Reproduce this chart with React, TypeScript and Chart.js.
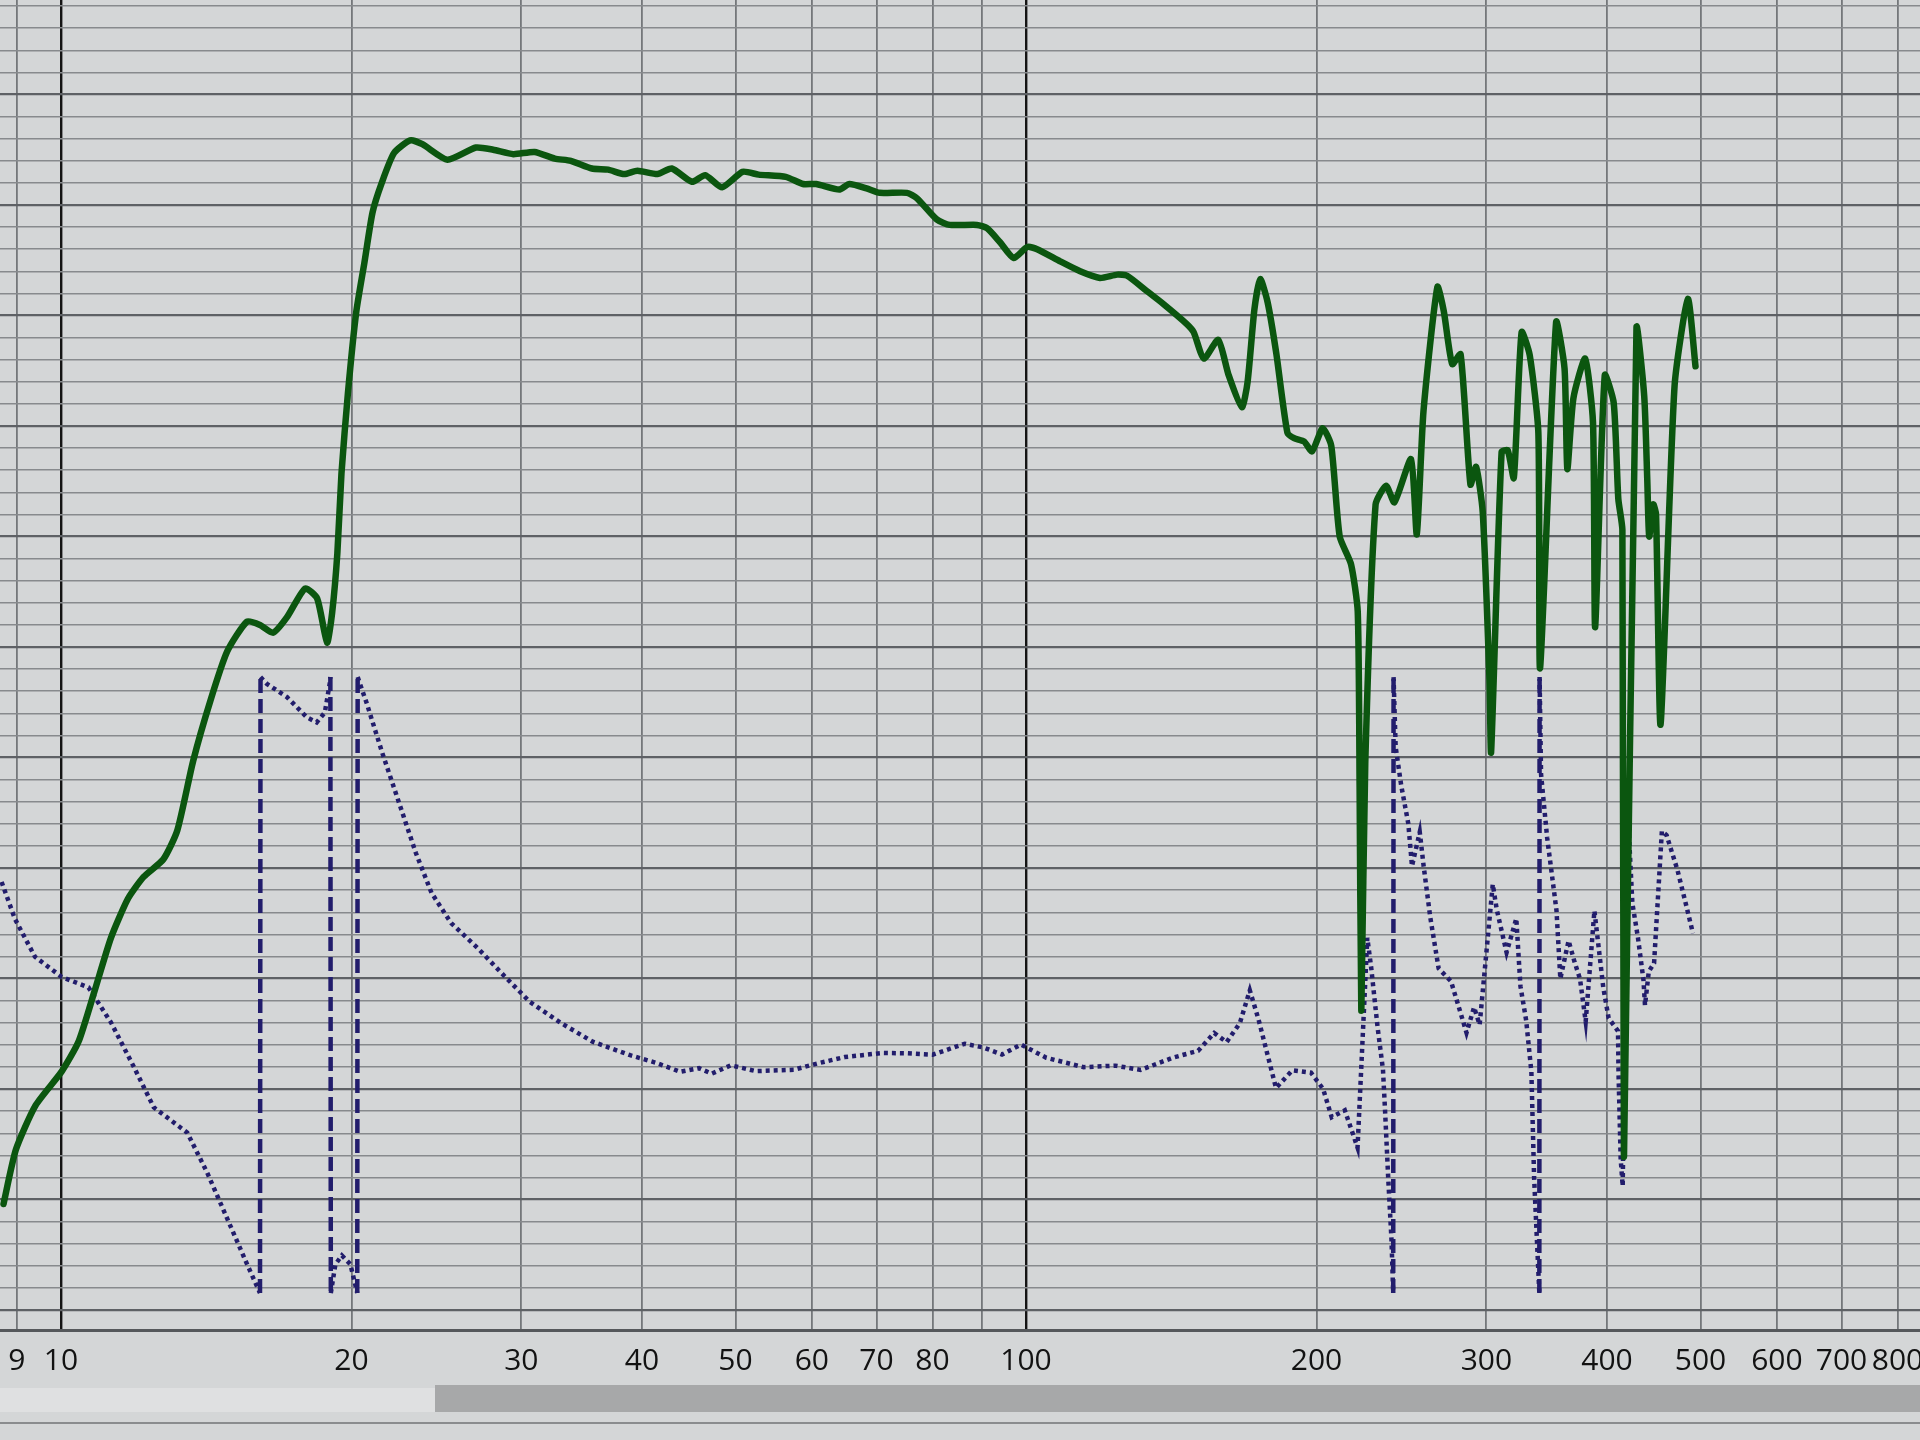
import React, { useEffect, useRef } from 'react';
import { Chart, registerables } from 'chart.js';

Chart.register(...registerables);

// Magnitude response (green, solid) — frequency in Hz, level in dB
const MAG_FREQ = [
  8.72, 8.98, 9.41, 10.02, 10.43, 10.83, 11.27, 11.73, 12.18, 12.77, 13.2, 13.71, 14.28, 14.87, 15.59,
  16.08, 16.59, 17.15, 17.91, 18.43, 18.87, 19.1, 19.34, 19.53, 19.83, 20.23, 20.63, 21.03, 21.5, 22.14,
  23.01, 23.69, 25.15, 26.92, 28.05, 29.43, 30.96, 32.49, 33.76, 35.5, 36.9, 38.34, 39.57, 41.52, 42.95,
  45.07, 46.51, 48.44, 50.85, 52.84, 56.38, 58.74, 60.6, 64.05, 65.62, 68.37, 70.53, 75.28, 77.11, 80.82,
  83.36, 88.97, 91.13, 93.96, 97.12, 100.3, 102.7, 108.5, 113.8, 119.3, 124.3, 127.3, 133.5, 139.0, 146.7,
  149.2, 152.9, 158.2, 162.2, 167.4, 169.7, 172.5, 174.9, 178.0, 181.7, 186.6, 189.6, 194.2, 197.9, 203.0,
  207.2, 211.4, 217.2, 220.7, 221.7, 222.6, 224.7, 230.3, 236.2, 240.9, 250.6, 254.1, 258.2, 266.9, 271.0,
  276.5, 282.1, 288.8, 292.7, 297.4, 302.2, 303.4, 311.1, 315.7, 320.3, 326.3, 332.7, 339.6, 341.0, 354.3,
  361.5, 363.9, 369.2, 379.7, 386.9, 388.9, 397.9, 406.5, 411.0, 415.0, 416.6, 429.2, 437.2, 440.4, 442.4,
  446.8, 449.7, 454.6, 470.0, 485.2, 494.1,
];
const MAG_DB = [
  -100.4, -95.5, -91.5, -88.4, -85.7, -81.2, -76.3, -72.8, -70.8, -69.2, -66.6, -60.3, -54.9, -50.4, -47.7,
  -48.0, -48.7, -47.3, -44.7, -45.6, -49.6, -46.9, -41.5, -34.3, -27.1, -19.7, -15.2, -10.7, -8.0, -5.3,
  -4.15, -4.5, -5.9, -4.8, -5.0, -5.4, -5.2, -5.8, -6.0, -6.7, -6.8, -7.2, -6.9, -7.2, -6.7,
  -7.9, -7.3, -8.4, -7.0, -7.25, -7.45, -8.1, -8.1, -8.6, -8.1, -8.5, -8.9, -8.9, -9.4, -11.3,
  -11.8, -11.8, -12.1, -13.35, -14.8, -13.8, -14.0, -15.1, -16.0, -16.6, -16.3, -16.4, -17.8, -19.0, -20.75,
  -21.5, -23.9, -22.2, -25.4, -28.3, -26.0, -19.4, -16.7, -18.8, -23.4, -30.6, -31.1, -31.4, -32.3, -30.2,
  -31.8, -40.0, -42.5, -46.8, -62.9, -82.9, -60.5, -37.1, -35.4, -36.9, -33.0, -39.8, -28.65, -17.4, -19.6,
  -24.4, -23.5, -35.3, -33.7, -37.8, -52.9, -59.5, -32.35, -32.2, -34.7, -21.5, -23.6, -30.6, -51.9, -20.6,
  -24.8, -33.9, -27.5, -23.9, -29.7, -48.2, -25.4, -27.9, -36.6, -39.4, -96.1, -21.1, -27.3, -34.9, -40.0,
  -37.1, -38.0, -57.0, -26.4, -18.5, -24.6,
];

// Phase response (navy, dotted; wraps at ±180° drawn dashed)
const PHASE_FREQ = [
  8.68, 8.96, 9.4, 10.02, 10.68, 11.27, 11.91, 12.48, 13.52, 14.18, 14.86, 15.57, 16.08, 16.1, 16.35,
  17.15, 17.98, 18.41, 18.77, 18.99, 19.02, 19.04, 19.25, 19.55, 19.95, 20.28, 20.3, 20.74, 21.53, 22.41,
  23.32, 24.21, 25.37, 27.04, 28.84, 30.61, 33.0, 35.56, 38.89, 41.3, 43.83, 45.84, 47.25, 49.44, 52.5,
  57.47, 61.01, 64.88, 70.98, 75.41, 80.05, 86.4, 90.34, 94.43, 98.83, 104.99, 114.75, 123.8, 131.5, 141.9,
  150.8, 156.7, 161.4, 166.6, 170.6, 174.2, 181.6, 188.8, 197.4, 203.2, 207.4, 214.0, 220.6, 225.8, 227.9,
  231.4, 234.4, 235.6, 237.3, 239.2, 240.2, 240.4, 241.6, 244.8, 249.0, 251.2, 255.9, 258.3, 262.4, 267.7,
  275.7, 281.8, 286.1, 291.3, 295.2, 304.6, 307.5, 314.8, 322.2, 325.4, 329.9, 334.0, 336.2, 340.4, 340.6,
  341.8, 346.8, 354.6, 357.9, 365.0, 370.2, 375.1, 380.2, 388.2, 391.9, 396.5, 401.6, 410.7, 411.2, 413.3,
  415.3, 420.3, 425.0, 430.7, 436.4, 438.0, 442.0, 447.6, 456.0, 461.2, 473.2, 482.9, 491.1,
];
const PHASE_DEG = [
  60.2, 38.7, 16.5, 4.7, -1.4, -21.9, -48.2, -71.5, -86.3, -109.8, -136.1, -162.4, -180, 180, 176,
  168.3, 156.5, 153.5, 159.3, 176.1, 180, -180, -163.2, -158, -163.2, -180, 180, 164.8, 135.6, 106.4,
  77.3, 53.9, 36.2, 21.5, 5.0, -9.8, -22.3, -33.1, -41.0, -45.3, -50.7, -48.6, -51.8, -46.9, -50.3,
  -49.5, -45.6, -42.1, -39.7, -39.9, -40.7, -34.3, -36.5, -40.6, -34.8, -42.5, -48.0, -47.1, -49.6, -42.5,
  -38.4, -28.0, -33.4, -22.2, -3.1, -20.2, -60.2, -49.8, -51.2, -60.7, -77.2, -73.2, -95.0, 27.6, 10.2,
  -24.6, -49.5, -74.1, -111.8, -148.7, -180, 180, 139.2, 116.8, 94.4, 69.5, 89.4, 69.4, 39.6, 9.7,
  2.2, -15.5, -27.9, -13.0, -23.2, 58.9, 44.2, 19.0, 38.9, -0.7, -20.8, -50.8, -113.1, -180, 180,
  123.2, 86.1, 43.7, 3.7, 25.9, 13.6, 3.5, -21.3, 43.4, 23.4, -1.4, -19.3, -26.9, -51.6, -101.6,
  -117.5, 102.6, 47.8, 27.7, 3.0, -11.8, 7.9, 12.8, 90.0, 87.5, 67.4, 47.3, 30.2,
];

// Axis grid / tick labels
const GRID_FREQS = [9, 10, 20, 30, 40, 50, 60, 70, 80, 90, 100, 200, 300, 400, 500, 600, 700, 800];
const DECADE_FREQS = [10, 100];
const TICK_LABELS = [9, 10, 20, 30, 40, 50, 60, 70, 80, 100, 200, 300, 400, 500, 600, 700, 800];

const X_MIN = 8.647;
const X_MAX = 844.2;
const DB_MIN = -111.8;
const DB_MAX = 8.55;
const DB_MINOR_STEP = 2;
const DB_MAJOR_STEP = 10;
const PH_MIN = -201.6;
const PH_MAX = 575.7;

const BG = '#d4d6d7';
const GREEN = '#0b560f';
const NAVY = '#221d6c';

const labelPlugin = {
  id: 'freqLabels',
  beforeDraw(chart: any) {
    const { ctx, width, height } = chart;
    ctx.save();
    ctx.fillStyle = BG;
    ctx.fillRect(0, 0, width, height);
    ctx.restore();
  },
  afterDraw(chart: any) {
    const { ctx, chartArea } = chart;
    const xs = chart.scales.x;
    ctx.save();
    ctx.fillStyle = '#121212';
    ctx.font = '30px "Open Sans", "Liberation Sans", Arial, sans-serif';
    ctx.textAlign = 'center';
    ctx.textBaseline = 'middle';
    TICK_LABELS.forEach((v) => {
      ctx.fillText(String(v), xs.getPixelForValue(v), chartArea.bottom + 31);
    });
    ctx.restore();
  },
};

export default function App() {
  const ref = useRef<HTMLCanvasElement | null>(null);

  useEffect(() => {
    document.body.style.margin = '0';
    document.body.style.background = BG;
    if (!ref.current) return;
    const chart = new Chart(ref.current, {
      type: 'line',
      data: {
        datasets: [
          {
            label: 'Magnitude',
            data: MAG_FREQ.map((f, i) => ({ x: f, y: MAG_DB[i] })),
            yAxisID: 'y',
            borderColor: GREEN,
            borderWidth: 6.5,
            tension: 0.2,
            pointRadius: 0,
            borderJoinStyle: 'round',
            borderCapStyle: 'round',
            fill: false,
          },
          {
            label: 'Phase',
            data: PHASE_FREQ.map((f, i) => ({ x: f, y: PHASE_DEG[i] })),
            yAxisID: 'yPhase',
            borderColor: NAVY,
            borderWidth: 4.5,
            borderDash: [4, 4],
            tension: 0,
            pointRadius: 0,
            borderCapStyle: 'butt',
            fill: false,
            segment: {
              borderDash: (c: any) =>
                Math.abs(c.p1.parsed.y - c.p0.parsed.y) > 300 ? [14, 6] : [4, 4],
            },
          },
        ],
      },
      options: {
        animation: false,
        responsive: false,
        maintainAspectRatio: false,
        devicePixelRatio: 1,
        layout: { padding: { left: 0, right: 0, top: 0, bottom: 60 } },
        plugins: { legend: { display: false }, tooltip: { enabled: false } },
        scales: {
          x: {
            type: 'logarithmic',
            min: X_MIN,
            max: X_MAX,
            afterBuildTicks: (s: any) => {
              s.ticks = GRID_FREQS.map((v) => ({ value: v }));
            },
            ticks: { display: false },
            border: { display: true, color: '#55585b', width: 3 },
            grid: {
              drawTicks: false,
              color: (c: any) => (DECADE_FREQS.includes(c.tick?.value) ? '#141414' : '#74777a'),
              lineWidth: (c: any) => (DECADE_FREQS.includes(c.tick?.value) ? 2.4 : 1.8),
            },
          },
          y: {
            type: 'linear',
            min: DB_MIN,
            max: DB_MAX,
            afterBuildTicks: (s: any) => {
              const t: any[] = [];
              for (let v = -110; v <= 8; v += DB_MINOR_STEP) t.push({ value: v });
              s.ticks = t;
            },
            ticks: { display: false },
            border: { display: false },
            grid: {
              drawTicks: false,
              color: (c: any) => (c.tick && c.tick.value % DB_MAJOR_STEP === 0 ? '#5e6165' : '#878a8d'),
              lineWidth: (c: any) => (c.tick && c.tick.value % DB_MAJOR_STEP === 0 ? 2.2 : 1.5),
            },
          },
          yPhase: {
            type: 'linear',
            display: false,
            min: PH_MIN,
            max: PH_MAX,
          },
        },
      } as any,
      plugins: [labelPlugin],
    });
    return () => chart.destroy();
  }, []);

  return (
    <div style={{ position: 'relative', width: 1920, height: 1440, overflow: 'hidden', background: BG }}>
      <canvas ref={ref} width={1920} height={1390} style={{ position: 'absolute', left: 0, top: 0, width: 1920, height: 1390 }} />
      <div style={{ position: 'absolute', left: 0, top: 1388, width: 1920, height: 24, background: '#dfe0e1' }} />
      <div style={{ position: 'absolute', left: 435, top: 1385, width: 1485, height: 27, background: '#a7a8a9' }} />
      <div style={{ position: 'absolute', left: 0, top: 1422, width: 1920, height: 2, background: '#8a8c8e' }} />
    </div>
  );
}
